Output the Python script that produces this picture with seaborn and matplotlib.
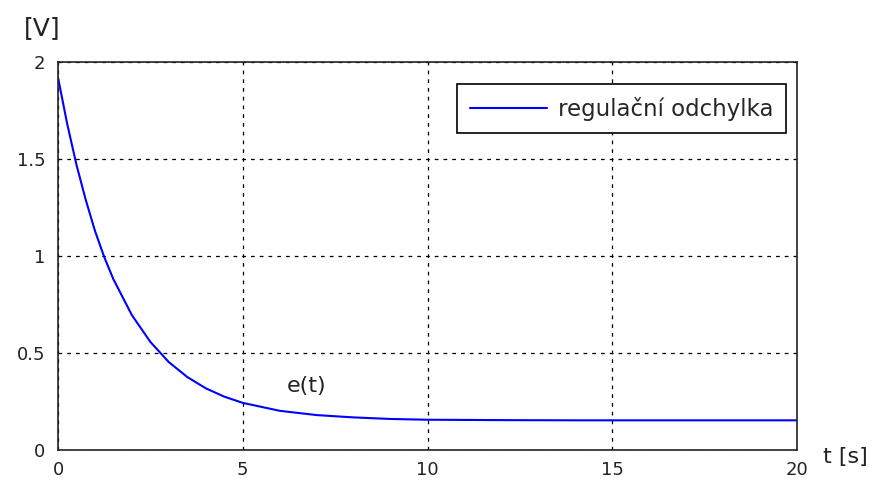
import matplotlib
matplotlib.use("Agg")
import matplotlib.pyplot as plt
import seaborn as sns
import pandas as pd

t_values = [0, 0.25, 0.5, 0.75, 1, 1.25, 1.5, 2, 2.5, 3, 3.5, 4, 4.5, 5, 6, 7, 8, 9, 10, 12, 14, 16, 18, 20]
e_values = [1.92, 1.68, 1.47, 1.29, 1.13, 0.995, 0.88, 0.695, 0.557, 0.453, 0.376, 0.318, 0.275, 0.243,
            0.202, 0.180, 0.168, 0.160, 0.156, 0.154, 0.153, 0.153, 0.153, 0.153]
x_ticks = [0, 5, 10, 15, 20]
y_ticks = [0, 0.5, 1, 1.5, 2]
y_tick_labels = ["0", "0.5", "1", "1.5", "2"]
series_label = "regulační odchylka"

sns.set_theme(style="white")
plt.rcParams["font.family"] = ["DejaVu Sans"]

df = pd.DataFrame({"t": t_values, "e": e_values, "serie": series_label})

fig = plt.figure(figsize=(8.73, 4.80), dpi=100)
ax = fig.add_axes([58 / 873, 30 / 480, 739 / 873, 388 / 480])
sns.lineplot(data=df, x="t", y="e", hue="serie", palette=["#0000ff"], linewidth=1.5, ax=ax)

ax.set_xlim(0, 20)
ax.set_ylim(0, 2)
ax.set_xticks(x_ticks)
ax.set_xticklabels([str(v) for v in x_ticks])
ax.set_yticks(y_ticks)
ax.set_yticklabels(y_tick_labels)
ax.tick_params(axis="x", labelsize=13, colors="#222222", direction="in", length=4, pad=8)
ax.tick_params(axis="y", labelsize=13, colors="#222222", direction="in", length=4, pad=9)
ax.grid(True, color="black", linestyle=(0, (3, 4)), linewidth=0.9)
for s in ax.spines.values():
    s.set_color("#222222")
    s.set_linewidth(1.2)
ax.set_xlabel("")
ax.set_ylabel("")

leg = ax.legend(loc="upper right", bbox_to_anchor=(0.985, 0.943), fontsize=16.5, frameon=True,
                fancybox=False, edgecolor="black", framealpha=1, handlelength=3.4,
                borderpad=0.55, handletextpad=0.45, borderaxespad=0)
leg.get_frame().set_linewidth(1.2)

ax.text(6.72, 0.33, "e(t)", fontsize=16, ha="center", va="center", color="#222222")
fig.text(42 / 873, 1 - 28 / 480, "[V]", fontsize=18, ha="center", va="center", color="#222222")
fig.text(845 / 873, 1 - 457 / 480, "t [s]", fontsize=16, ha="center", va="center", color="#222222")

fig.savefig("out.png", dpi=100, facecolor="white")
